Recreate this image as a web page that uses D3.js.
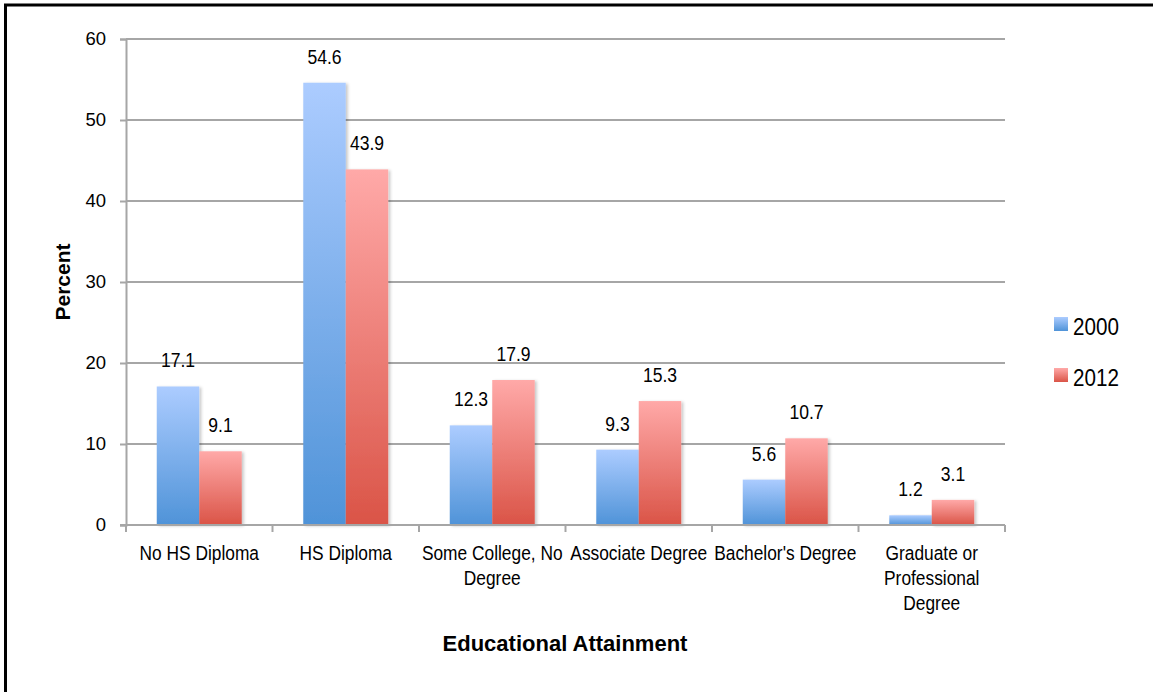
<!DOCTYPE html>
<html><head><meta charset="utf-8">
<script src="https://cdn.jsdelivr.net/npm/d3@7"></script>
<style>
body{margin:0;background:#fff;}
svg{display:block;font-family:"Liberation Sans",Arial,sans-serif;}
</style></head>
<body>
<svg id="c" width="1153" height="692"></svg>
<script>
const categories = ["No HS Diploma","HS Diploma","Some College, No Degree","Associate Degree","Bachelor's Degree","Graduate or Professional Degree"];
const categoryLines = [["No HS Diploma"],["HS Diploma"],["Some College, No","Degree"],["Associate Degree"],["Bachelor's Degree"],["Graduate or","Professional","Degree"]];
const seriesNames = ["2000","2012"];
const values2000 = [17.1,54.6,12.3,9.3,5.6,1.2];
const values2012 = [9.1,43.9,17.9,15.3,10.7,3.1];
const yTicks = [0,10,20,30,40,50,60];

(function(){
const svg = d3.select("#c");
const defs = svg.append("defs");
const grads = [["gBlue","#acccff","#4f93d8"],["gRed","#ffa9a8","#da5447"]];
grads.forEach(([id,c1,c2])=>{
  const g = defs.append("linearGradient").attr("id",id).attr("x1",0).attr("y1",0).attr("x2",0).attr("y2",1);
  g.append("stop").attr("offset","0%").attr("stop-color",c1);
  g.append("stop").attr("offset","100%").attr("stop-color",c2);
});
const f = defs.append("filter").attr("id","sh").attr("x","-20%").attr("y","-5%").attr("width","150%").attr("height","115%");
f.append("feDropShadow").attr("dx",2).attr("dy",1).attr("stdDeviation",1.5).attr("flood-color","#000").attr("flood-opacity",0.22);

// outer border
svg.append("rect").attr("x",5.5).attr("y",5).attr("width",1300).attr("height",900)
  .attr("fill","none").attr("stroke","#000").attr("stroke-width",3);

const pl=126, pr=1005, pt=39, pb=525;
const x = d3.scaleBand().domain(categories).range([pl,pr]).paddingInner(0).paddingOuter(0);
const y = d3.scaleLinear().domain([0,60]).range([pb,pt]);
const bw = x.bandwidth();
const barW = bw*0.29;
const x1 = d3.scaleBand().domain(seriesNames).range([(bw-2*barW)/2,(bw+2*barW)/2]);

// condensed text helper
function ctext(sel, tx, ty, str, size, sx, anchor){
  return sel.append("text").attr("transform",`translate(${tx},${ty}) scale(${sx},1)`)
    .attr("text-anchor",anchor||"middle").attr("font-size",size).attr("fill","#000").text(str);
}

// gridlines
svg.append("g").selectAll("line").data(yTicks.filter(d=>d>0)).join("line")
  .attr("x1",pl).attr("x2",pr).attr("y1",d=>y(d)).attr("y2",d=>y(d))
  .attr("stroke","#a6a6a6").attr("stroke-width",2);

// y axis
const yAxis = svg.append("g").attr("transform",`translate(${pl},0)`)
  .call(d3.axisLeft(y).tickValues(yTicks).tickSize(6).tickPadding(14));
yAxis.select(".domain").attr("stroke","#a6a6a6").attr("stroke-width",2);
yAxis.selectAll(".tick line").attr("stroke","#a6a6a6").attr("stroke-width",2);
yAxis.selectAll("text").attr("font-size",18.5).attr("fill","#000").attr("font-family","Liberation Sans, Arial");

// bars
const data = categories.map((c,i)=>({c, v:[{s:"2000",v:values2000[i]},{s:"2012",v:values2012[i]}]}));
const groups = svg.append("g").selectAll("g").data(data).join("g")
  .attr("transform",d=>`translate(${x(d.c)},0)`);
groups.selectAll("rect").data(d=>d.v).join("rect")
  .attr("x",d=>x1(d.s)).attr("width",x1.bandwidth())
  .attr("y",d=>y(d.v)).attr("height",d=>y(0)-y(d.v))
  .attr("fill",d=>d.s==="2000"?"url(#gBlue)":"url(#gRed)")
  .attr("filter","url(#sh)");
groups.each(function(d){
  const g = d3.select(this);
  d.v.forEach(e=>{
    ctext(g, x1(e.s)+x1.bandwidth()/2, y(e.v)-19, e.v.toFixed(1), 19.5, 0.9);
  });
});

// x axis
const xAxis = svg.append("g").attr("transform",`translate(0,${pb})`);
xAxis.append("line").attr("x1",pl-6).attr("x2",pr).attr("stroke","#a6a6a6").attr("stroke-width",2);
const xt = categories.map(c=>x(c)).concat([pr]);
xAxis.selectAll("line.t").data(xt).join("line").attr("class","t")
  .attr("x1",d=>d).attr("x2",d=>d).attr("y1",0).attr("y2",7)
  .attr("stroke","#a6a6a6").attr("stroke-width",2);
categories.forEach((c,i)=>{
  categoryLines[i].forEach((ln,j)=>{
    ctext(xAxis, x(c)+bw/2, 35+j*25, ln, 19.5, 0.89);
  });
});

// axis titles
svg.append("text").attr("transform",`translate(70,282) rotate(-90)`)
  .attr("text-anchor","middle").attr("font-size",21).attr("font-weight","bold").text("Percent");
svg.append("text").attr("x",565).attr("y",651)
  .attr("text-anchor","middle").attr("font-size",22).attr("font-weight","bold").text("Educational Attainment");

// legend
const leg = svg.append("g").selectAll("g").data(seriesNames).join("g")
  .attr("transform",(d,i)=>`translate(1054,${317+i*51})`);
leg.append("rect").attr("width",14).attr("height",14)
  .attr("fill",(d,i)=>i===0?"url(#gBlue)":"url(#gRed)");
leg.each(function(d){ ctext(d3.select(this), 19, 18, d, 24, 0.86, "start"); });
})();
</script>
</body></html>
